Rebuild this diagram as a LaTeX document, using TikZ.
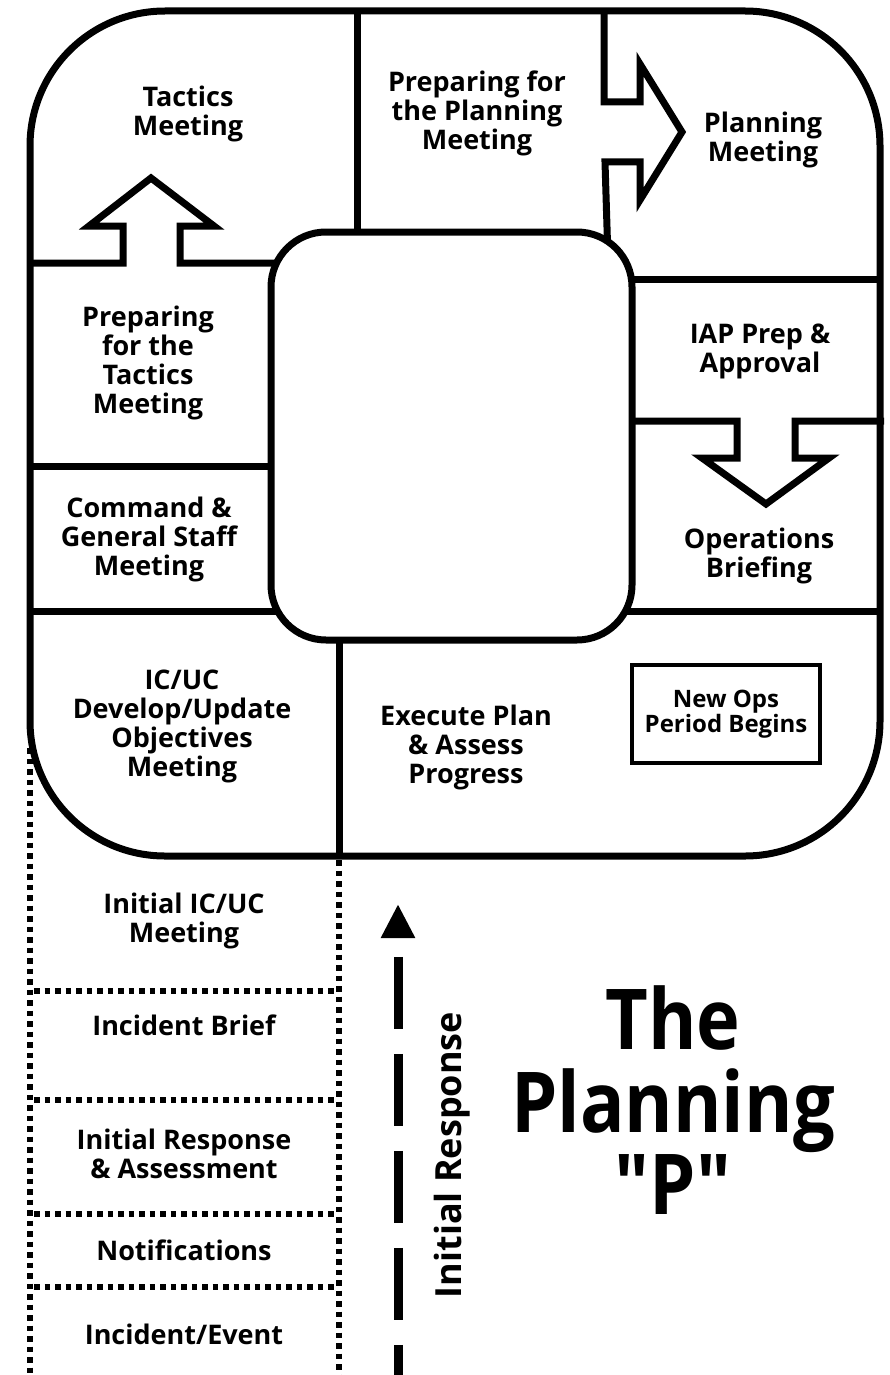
\documentclass[tikz,border=0pt]{standalone}
\usepackage{fontspec}
\setmainfont{Open Sans}
\newfontfamily\titlefont{Open Sans}[FakeStretch=0.88]
\usetikzlibrary{arrows.meta}

\tikzset{
  wall/.style={line width=7pt, line join=miter},
  dotline/.style={line width=6pt, dash pattern=on 5.5pt off 5pt},
  cell/.style={font=\fontsize{27}{29}\selectfont\bfseries, align=center, inner sep=0pt},
}

\begin{document}
\begin{tikzpicture}[x=1pt, y=-1pt]
\useasboundingbox (0,0) rectangle (889,1375);

    % outer frame of the loop
    \draw[wall, rounded corners=135pt] (30,11) rectangle (880,856);

    % walls between the steps, with the block arrows in them
    \draw[wall] (357,11) -- (357,245);
    \draw[wall] (30,263) -- (123,263) -- (123,226) -- (89,226) -- (151,178)
        -- (214,226) -- (180,226) -- (180,263) -- (300,263);
    \draw[wall] (604,11) -- (604,102) -- (640,102) -- (640,64) -- (682,132)
        -- (640,200) -- (640,162) -- (605,162) -- (608,260);
    \draw[wall] (600,279) -- (880,279);
    \draw[wall] (610,421) -- (737,421) -- (737,458) -- (702,458) -- (766,504)
        -- (829,458) -- (795,458) -- (795,421) -- (884,421);
    \draw[wall] (600,611) -- (880,611);
    \draw[wall] (30,466) -- (290,466);
    \draw[wall] (30,611) -- (300,611);
    \draw[wall] (339,600) -- (339,856);

    % the hub in the middle
    \node[draw, line width=7pt, fill=white, rounded corners=55pt,
          minimum width=361pt, minimum height=408pt] (hub) at (451.5,436) {};

    % stem of the P
    \draw[dotline] (30,748) -- (30,1380);
    \draw[dotline] (339,860) -- (339,1380);
    \foreach \y in {991,1100,1214,1287}
        \draw[dotline] (34,\y) -- (336,\y);

    % steps
    \node[cell] (tactics) at (188,113.5) {Tactics\\Meeting};
    \node[cell] (prepPlan) at (477,113) {Preparing for\\the Planning\\Meeting};
    \node[cell] (planning) at (763,140) {Planning\\Meeting};
    \node[cell] (prepTact) at (148,363) {Preparing\\for the\\Tactics\\Meeting};
    \node[cell] (iap) at (760,351) {IAP Prep \&\\Approval};
    \node[cell] (cgs) at (149,539) {Command \&\\General Staff\\Meeting};
    \node[cell] (opsBrief) at (759,556) {Operations\\Briefing};
    \node[cell] (objectives) at (182,726) {IC/UC\\Develop/Update\\Objectives\\Meeting};
    \node[cell] (execute) at (466,747) {Execute Plan\\\& Assess\\Progress};
    \node[draw, line width=4pt, minimum width=188pt, minimum height=98pt,
          font=\fontsize{24}{25}\selectfont\bfseries, align=center, inner sep=0pt]
          (newOps) at (726,714) {New Ops\\Period Begins};

    \node[cell] (initMeet) at (184,921) {Initial IC/UC\\Meeting};
    \node[cell] (brief) at (184,1025.5) {Incident Brief};
    \node[cell] (assess) at (184,1154) {Initial Response\\\& Assessment};
    \node[cell] (notify) at (184,1250) {Notifications};
    \node[cell] (incident) at (184,1334) {Incident/Event};

    % initial response arrow
    \coordinate (irTop) at (398,904);
    \coordinate (irFoot) at (398,1380);
    \draw[line width=9pt, dash pattern=on 72pt off 25pt, dash phase=76pt,
          {Triangle[length=34pt,width=32pt]}-] (irTop) -- (irFoot);
    \node[rotate=90, font=\fontsize{36}{40}\selectfont\bfseries, inner sep=0pt]
          (irLabel) at (452,1155) {Initial Response};

    % title
    \node[font=\titlefont\fontsize{84}{82.5}\selectfont\bfseries, align=center, inner sep=0pt]
          (title) at (673,1100.5) {The\\Planning\\"P"};

\end{tikzpicture}
\end{document}
